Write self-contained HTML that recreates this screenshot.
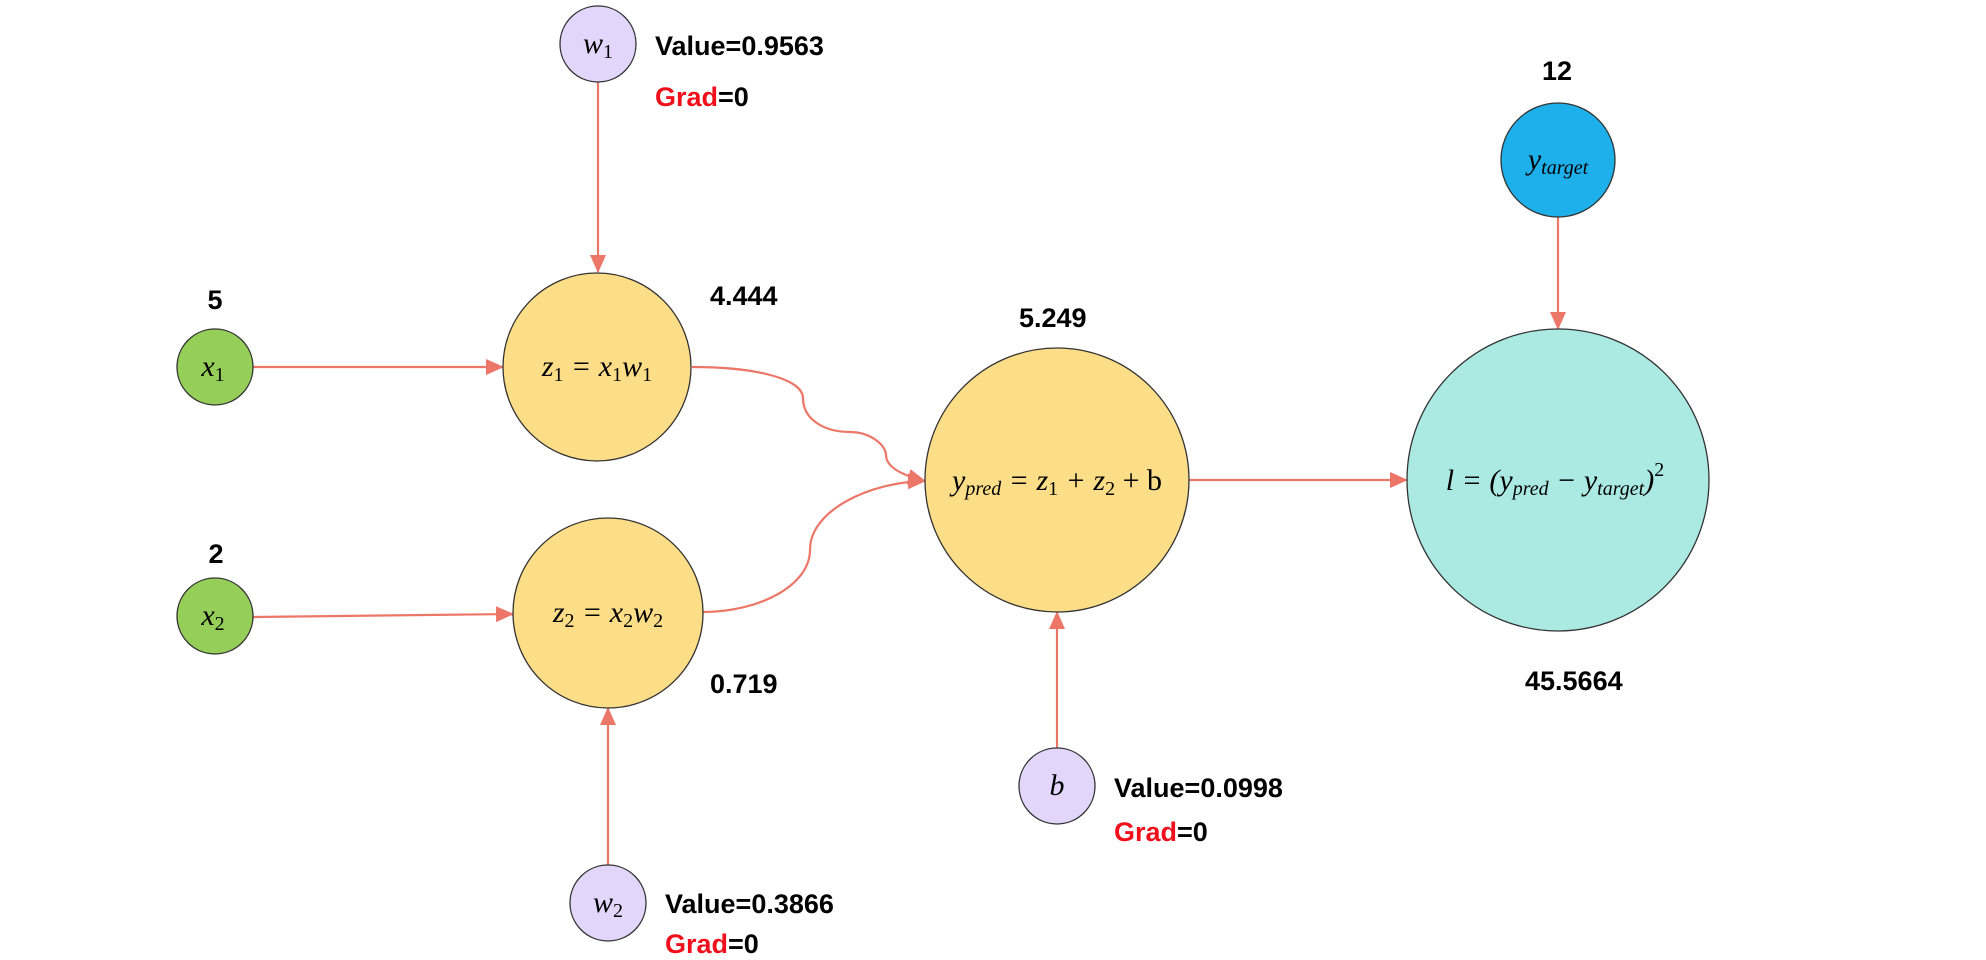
<!DOCTYPE html>
<html><head><meta charset="utf-8"><style>
html,body{margin:0;padding:0;background:#fff;}
svg{display:block;}
.lbl{font-family:"Liberation Sans",sans-serif;font-weight:bold;font-size:27px;fill:#000;}
.m{font-family:"Liberation Serif",serif;font-style:italic;font-size:30px;fill:#000;}
.s{font-size:20px;font-style:normal;}
.si{font-size:20px;}
</style></head><body>
<svg width="1986" height="960" viewBox="0 0 1986 960" xmlns="http://www.w3.org/2000/svg">
<defs>
<marker id="A" markerWidth="18" markerHeight="16" refX="17" refY="8" orient="auto" markerUnits="userSpaceOnUse" viewBox="0 0 18 16">
<path d="M0,0 L18,8 L0,16 z" fill="#ec7768"/></marker>
</defs>
<g stroke="#ec7768" stroke-width="2.2" fill="none">
<line x1="598" y1="82" x2="598" y2="272" marker-end="url(#A)"/>
<line x1="253" y1="367" x2="503" y2="367" marker-end="url(#A)"/>
<line x1="253" y1="617" x2="513" y2="614" marker-end="url(#A)"/>
<line x1="608" y1="865" x2="608" y2="708" marker-end="url(#A)"/>
<line x1="1057" y1="748" x2="1057" y2="612" marker-end="url(#A)"/>
<line x1="1189" y1="480" x2="1407" y2="480" marker-end="url(#A)"/>
<line x1="1558" y1="217" x2="1558" y2="329" marker-end="url(#A)"/>
<path d="M692,367 C760,367 803,380 803,398 C803,420 825,432 850,432 C870,432 886,445 886,455 C886,468 905,476 925,481" marker-end="url(#A)"/>
<path d="M703,612 C760,612 810,585 810,550 C810,510 870,482 925,481" marker-end="url(#A)"/>
</g>
<g stroke="#333" stroke-width="1.3">
<ellipse cx="598" cy="44" rx="38" ry="38" fill="#e3d6fb"/>
<ellipse cx="608" cy="903" rx="38" ry="38" fill="#e3d6fb"/>
<ellipse cx="1057" cy="786" rx="38" ry="38" fill="#e3d6fb"/>
<ellipse cx="215" cy="367" rx="38" ry="38" fill="#95cf5a"/>
<ellipse cx="215" cy="616" rx="38" ry="38" fill="#95cf5a"/>
<ellipse cx="597" cy="367" rx="94" ry="94" fill="#fcdd88"/>
<ellipse cx="608" cy="613" rx="95" ry="95" fill="#fcdd88"/>
<ellipse cx="1057" cy="480" rx="132" ry="132" fill="#fcdd88"/>
<ellipse cx="1558" cy="160" rx="57" ry="57" fill="#1eb0ea"/>
<ellipse cx="1558" cy="480" rx="151" ry="151" fill="#abe9e3"/>
</g>
<text class="m" x="598" y="53" text-anchor="middle">w<tspan class="s" dy="5">1</tspan></text>
<text class="m" x="608" y="912" text-anchor="middle">w<tspan class="s" dy="5">2</tspan></text>
<text class="m" x="1057" y="795" text-anchor="middle">b</text>
<text class="m" x="213" y="376" text-anchor="middle">x<tspan class="s" dy="5">1</tspan></text>
<text class="m" x="213" y="625" text-anchor="middle">x<tspan class="s" dy="5">2</tspan></text>
<text class="m" x="597" y="376" text-anchor="middle">z<tspan class="s" dy="5">1</tspan><tspan dy="-5"> = x</tspan><tspan class="s" dy="5">1</tspan><tspan dy="-5">w</tspan><tspan class="s" dy="5">1</tspan></text>
<text class="m" x="608" y="622" text-anchor="middle">z<tspan class="s" dy="5">2</tspan><tspan dy="-5"> = x</tspan><tspan class="s" dy="5">2</tspan><tspan dy="-5">w</tspan><tspan class="s" dy="5">2</tspan></text>
<text class="m" x="1057" y="490" text-anchor="middle">y<tspan class="si" dy="5">pred</tspan><tspan dy="-5"> = z</tspan><tspan class="s" dy="5">1</tspan><tspan dy="-5"> + z</tspan><tspan class="s" dy="5">2</tspan><tspan dy="-5" font-style="normal"> + b</tspan></text>
<text class="m" x="1558" y="169" text-anchor="middle">y<tspan class="si" dy="5">target</tspan></text>
<text class="m" x="1555" y="490" text-anchor="middle">l = (y<tspan class="si" dy="5">pred</tspan><tspan dy="-5"> − y</tspan><tspan class="si" dy="5">target</tspan><tspan dy="-5">)</tspan><tspan class="s" dy="-14">2</tspan></text>
<text class="lbl" x="215" y="309" text-anchor="middle">5</text>
<text class="lbl" x="216" y="563" text-anchor="middle">2</text>
<text class="lbl" x="710" y="305">4.444</text>
<text class="lbl" x="710" y="693">0.719</text>
<text class="lbl" x="1019" y="327">5.249</text>
<text class="lbl" x="1557" y="80" text-anchor="middle">12</text>
<text class="lbl" x="1525" y="690">45.5664</text>
<text class="lbl" x="655" y="55">Value=0.9563</text>
<text class="lbl" x="655" y="106"><tspan fill="#f0101c">Grad</tspan>=0</text>
<text class="lbl" x="665" y="913">Value=0.3866</text>
<text class="lbl" x="665" y="953"><tspan fill="#f0101c">Grad</tspan>=0</text>
<text class="lbl" x="1114" y="797">Value=0.0998</text>
<text class="lbl" x="1114" y="841"><tspan fill="#f0101c">Grad</tspan>=0</text>
</svg>
</body></html>
